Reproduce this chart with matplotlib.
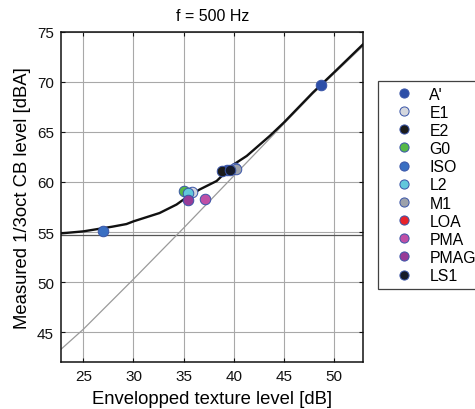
import matplotlib
matplotlib.use("Agg")
import matplotlib.pyplot as plt
from matplotlib.lines import Line2D

plt.rcParams["font.family"] = ["Liberation Sans", "DejaVu Sans"]

# Fitted level curve (background + texture)
curve_x = [22.77, 25.0, 27.9, 29.3, 30.0, 32.6, 34.3, 35.0, 36.6, 38.3, 40.0,
           41.3, 43.6, 45.0, 47.9, 50.0, 52.93]
curve_y = [54.87, 55.07, 55.54, 55.8, 56.07, 56.9, 57.75, 58.25, 59.25, 60.1,
           61.75, 62.6, 64.6, 65.93, 68.93, 70.93, 73.77]

# Texture-only reference line
diag_x = [22.77, 25.0, 30.0, 35.0, 40.0, 45.0, 47.9, 52.93]
diag_y = [43.3, 45.3, 50.3, 55.4, 60.6, 65.8, 68.8, 73.6]

# Background level
background_level = 54.73

materials = ["A'", "E1", "E2", "G0", "ISO", "L2", "M1", "LOA", "PMA", "PMAG", "LS1"]
mat_x = {
    "A'":   [48.7, 39.35],
    "E1":   [35.8, 40.15],
    "E2":   [38.85],
    "G0":   [35.0],
    "ISO":  [27.0],
    "L2":   [35.4],
    "M1":   [40.2],
    "LOA":  [],
    "PMA":  [37.1],
    "PMAG": [35.45],
    "LS1":  [39.6],
}
mat_y = {
    "A'":   [69.67, 61.2],
    "E1":   [59.0, 61.4],
    "E2":   [61.1],
    "G0":   [59.1],
    "ISO":  [55.15],
    "L2":   [58.92],
    "M1":   [61.3],
    "LOA":  [],
    "PMA":  [58.35],
    "PMAG": [58.18],
    "LS1":  [61.2],
}
mat_color = {
    "A'":   "#2d4fa8",
    "E1":   "#d4d7de",
    "E2":   "#1b1b1b",
    "G0":   "#55b848",
    "ISO":  "#3a6fc2",
    "L2":   "#62c8dc",
    "M1":   "#9da2ab",
    "LOA":  "#e8232b",
    "PMA":  "#bf4fa6",
    "PMAG": "#973c98",
    "LS1":  "#161b2a",
}
edge_col = "#3a55a8"

x_ticks = [25, 30, 35, 40, 45, 50]
y_ticks = [45, 50, 55, 60, 65, 70, 75]

fig = plt.figure(figsize=(4.75, 4.10), dpi=100)
ax = fig.add_axes([0.1284, 0.1139, 0.7649 - 0.1284, 0.9202 - 0.1139])

ax.set_xlim(22.77, 52.93)
ax.set_ylim(42.0, 75.0)
ax.set_xticks(x_ticks)
ax.set_yticks(y_ticks)
ax.grid(True, color="#a8a8a8", linewidth=0.8)
ax.set_axisbelow(True)

ax.axhline(background_level, color="#555555", linewidth=0.9, zorder=2)
ax.plot(diag_x, diag_y, color="#9a9a9a", linewidth=0.9, zorder=2)
ax.plot(curve_x, curve_y, color="#111111", linewidth=1.7, zorder=3)

handles = []
for m in materials:
    ax.plot(mat_x[m], mat_y[m], linestyle="none", marker="o", markersize=7.6,
            markerfacecolor=mat_color[m], markeredgecolor=edge_col,
            markeredgewidth=0.7, zorder=4)
    handles.append(Line2D([], [], linestyle="none", marker="o", markersize=6.6,
                          markerfacecolor=mat_color[m], markeredgecolor=edge_col,
                          markeredgewidth=0.7))

ax.tick_params(direction="in", top=True, right=True, length=3, width=0.8,
               labelsize=11, colors="#111111", pad=5)
for s in ax.spines.values():
    s.set_linewidth(1.1)
    s.set_color("#111111")

ax.set_title("f = 500 Hz", fontsize=11.5, pad=8.5)
ax.set_xlabel("Envelopped texture level [dB]", fontsize=13.3, labelpad=5)
ax.set_ylabel("Measured 1/3oct CB level [dBA]", fontsize=13.3, labelpad=4)

leg = fig.legend(handles, materials, loc="upper left",
                 bbox_to_anchor=(377.5 / 475, 1 - 82 / 410),
                 bbox_transform=fig.transFigure, fontsize=11.4, frameon=True,
                 fancybox=False, edgecolor="#111111", borderpad=0.35,
                 labelspacing=0.2, handletextpad=0.22, handlelength=2.7,
                 borderaxespad=0)
leg.get_frame().set_linewidth(0.9)

fig.savefig("out.png", dpi=100)
